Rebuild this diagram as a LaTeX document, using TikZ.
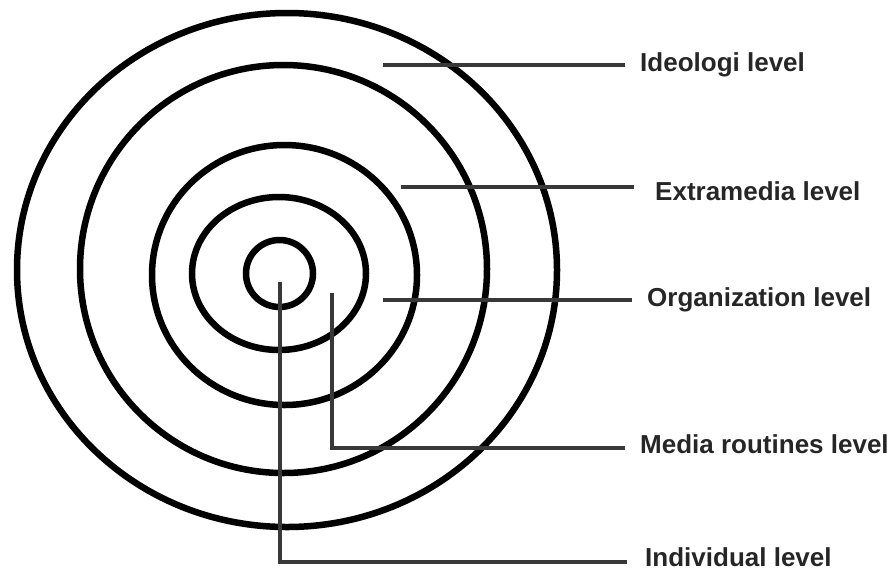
\documentclass[tikz,border=0pt]{standalone}
\usepackage{fontspec}
\setmainfont{Liberation Sans}

\begin{document}
\begin{tikzpicture}[x=1pt,y=-1pt,ring/.style={line width=6.5pt},
  lead/.style={line width=3.5pt,black!78,shorten >=15pt},
  lbl/.style={anchor=base west,inner sep=0pt,text=black!85,font=\bfseries\fontsize{26}{30}\selectfont}]
\useasboundingbox (0,0) rectangle (888,571);
\draw[ring] (279.5,273.5) circle[radius=33.5pt];
\draw[ring] (279,273.5) ellipse[x radius=87pt,y radius=76.5pt];
\draw[ring] (284.5,275) ellipse[x radius=132.5pt,y radius=130pt];
\draw[ring] (283.5,269) ellipse[x radius=203.5pt,y radius=204pt];
\draw[ring] (287,270) ellipse[x radius=270pt,y radius=257pt];
\node[lbl] (ideo) at (640,71.5) {Ideologi level};
\node[lbl] (extra) at (655,200) {Extramedia level};
\node[lbl] (org) at (647,306) {Organization level};
\node[lbl] (media) at (640,453) {Media routines level};
\node[lbl] (indiv) at (645,566) {Individual level};
\coordinate (i0) at (383,65); \coordinate (e0) at (401,187);
\coordinate (o0) at (383,300);
\coordinate (m0) at (332,293); \coordinate (m1) at (332,448);
\coordinate (n0) at (280,282); \coordinate (n1) at (280,562);
\draw[lead] (i0)--(i0-|ideo.west);
\draw[lead,shorten >=21pt] (e0)--(e0-|extra.west);
\draw[lead] (o0)--(o0-|org.west);
\draw[lead] (m0)--(m1)--(m1-|media.west);
\draw[lead,shorten >=18pt] (n0)--(n1)--(n1-|indiv.west);
\end{tikzpicture}
\end{document}
